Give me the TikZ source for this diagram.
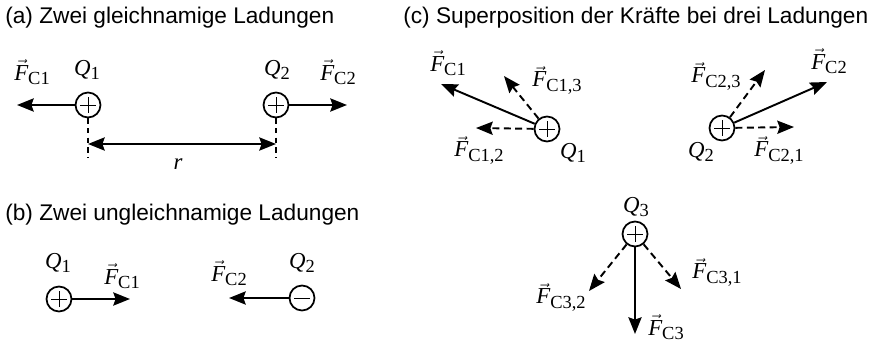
\documentclass[tikz,border=0pt]{standalone}
\usepackage{amsmath}
\usepackage{fontspec}
\setmainfont{Liberation Serif}
\setsansfont{Liberation Sans}
\usetikzlibrary{arrows.meta}
\tikzset{
  ladung/.style={circle, draw=black, line width=1pt, minimum size=0.5cm,
                 inner sep=0pt,
                 path picture={\draw[line width=0.4pt]
                   ([xshift=-4.4pt]path picture bounding box.center) --
                   ([xshift=4.4pt]path picture bounding box.center)
                   ([yshift=-4.4pt]path picture bounding box.center) --
                   ([yshift=4.4pt]path picture bounding box.center);}},
  ladungneg/.style={circle, draw=black, line width=1pt, minimum size=0.5cm,
                 inner sep=0pt,
                 path picture={\draw[line width=0.4pt]
                   ([xshift=-4.4pt]path picture bounding box.center) --
                   ([xshift=4.4pt]path picture bounding box.center);}},
  kraft/.style={line width=1.1pt, -{Stealth[length=9.5pt,width=7.5pt,inset=1.3pt]}},
  teilkraft/.style={kraft, dash pattern=on 4pt off 2.5pt},
  masspfeil/.style={line width=1.1pt,
    {Stealth[length=9.5pt,width=7.5pt,inset=1.3pt]}-{Stealth[length=9.5pt,width=7.5pt,inset=1.3pt]}},
  hilfslinie/.style={line width=0.6pt, dash pattern=on 3pt off 2.5pt},
  flab/.style={font=\fontsize{13}{15}\selectfont, inner sep=1pt},
  titel/.style={font=\sffamily\fontsize{12.9}{15}\selectfont, anchor=west, inner sep=0pt},
}
\newcommand{\Sub}[1]{\raisebox{-0.4ex}{\fontsize{10.5}{12}\selectfont #1}}
\newcommand{\Fv}[1]{$\vec{\textit{F}}$\Sub{#1}}
\newcommand{\Qn}[1]{\textit{Q}\Sub{#1}}

\begin{document}
\begin{tikzpicture}[x=0.02cm, y=-0.02cm]
  \useasboundingbox (0,0) rectangle (875,344);

  % (a) zwei gleichnamige Ladungen
  \node[titel] (ta) at (5,18) {(a) Zwei gleichnamige Ladungen};
  \node[ladung] (qa1) at (88,105) {};
  \node[ladung] (qa2) at (276,105) {};
  \node[flab] (qa1lab) at (87,70) {\Qn{1}};
  \node[flab] (qa2lab) at (277,70) {\Qn{2}};
  \coordinate (fa1) at (17,105);
  \coordinate (fa2) at (347,105);
  \draw[kraft] (qa1) -- (fa1);
  \draw[kraft] (qa2) -- (fa2);
  \node[flab] (fa1lab) at (32,72) {\Fv{C1}};
  \node[flab] (fa2lab) at (338,72) {\Fv{C2}};
  \coordinate (ra1) at (88,158);
  \coordinate (ra2) at (276,158);
  \draw[hilfslinie] (qa1) -- (ra1);
  \draw[hilfslinie] (qa2) -- (ra2);
  \coordinate (ma1) at (88,144);
  \coordinate (ma2) at (276,144);
  \draw[masspfeil] (ma1) -- (ma2);
  \node[flab] (rlab) at (178,164) {\textit{r}};

  % (b) zwei ungleichnamige Ladungen
  \node[titel] (tb) at (5,215) {(b) Zwei ungleichnamige Ladungen};
  \node[ladung] (qb1) at (59,299) {};
  \node[ladungneg] (qb2) at (302,298) {};
  \node[flab] (qb1lab) at (58,263) {\Qn{1}};
  \node[flab] (qb2lab) at (302,263) {\Qn{2}};
  \coordinate (fb1) at (130,299);
  \coordinate (fb2) at (229,298);
  \draw[kraft] (qb1) -- (fb1);
  \draw[kraft] (qb2) -- (fb2);
  \node[flab] (fb1lab) at (122,276) {\Fv{C1}};
  \node[flab] (fb2lab) at (229,273) {\Fv{C2}};

  % (c) Superposition
  \node[titel] (tc) at (403,18) {(c) Superposition der Kräfte bei drei Ladungen};
  \node[ladung] (qc1) at (547,129) {};
  \node[ladung] (qc2) at (722,128) {};
  \node[ladung] (qc3) at (635,234) {};
  \node[flab] (qc1lab) at (573,153) {\Qn{1}};
  \node[flab] (qc2lab) at (701,152) {\Qn{2}};
  \node[flab] (qc3lab) at (636,207) {\Qn{3}};

  \coordinate (fc1) at (441,84);
  \coordinate (fc13) at (504,76);
  \coordinate (fc12) at (476,128);
  \draw[kraft] (qc1) -- (fc1);
  \draw[teilkraft] (qc1) -- (fc13);
  \draw[teilkraft] (qc1) -- (fc12);
  \node[flab] (fc1lab) at (448,63) {\Fv{C1}};
  \node[flab] (fc13lab) at (557,80) {\Fv{C1,3}};
  \node[flab] (fc12lab) at (479,150) {\Fv{C1,2}};

  \coordinate (fc2) at (827,82);
  \coordinate (fc23) at (765,70);
  \coordinate (fc21) at (794,127);
  \draw[kraft] (qc2) -- (fc2);
  \draw[teilkraft] (qc2) -- (fc23);
  \draw[teilkraft] (qc2) -- (fc21);
  \node[flab] (fc2lab) at (829,61) {\Fv{C2}};
  \node[flab] (fc23lab) at (716,76) {\Fv{C2,3}};
  \node[flab] (fc21lab) at (779,150) {\Fv{C2,1}};

  \coordinate (fc3) at (635,334);
  \coordinate (fc32) at (589,291);
  \coordinate (fc31) at (681,289);
  \draw[kraft] (qc3) -- (fc3);
  \draw[teilkraft] (qc3) -- (fc32);
  \draw[teilkraft] (qc3) -- (fc31);
  \node[flab] (fc3lab) at (666,327) {\Fv{C3}};
  \node[flab] (fc32lab) at (561,297) {\Fv{C3,2}};
  \node[flab] (fc31lab) at (717,272) {\Fv{C3,1}};
\end{tikzpicture}
\end{document}
